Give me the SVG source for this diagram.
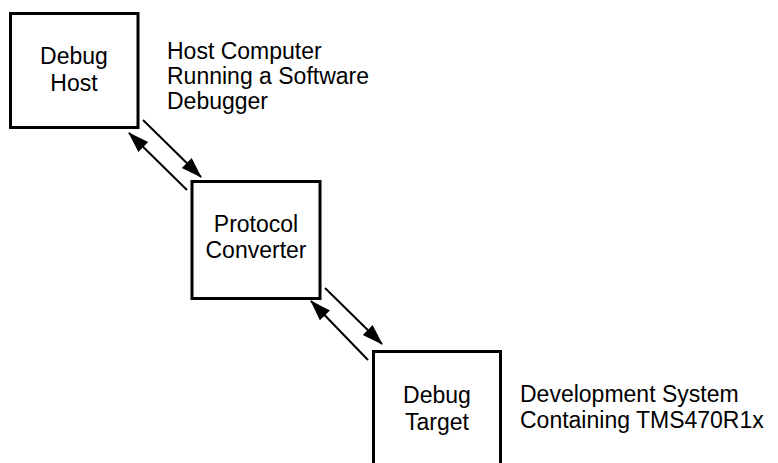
<svg xmlns="http://www.w3.org/2000/svg" width="778" height="463" viewBox="0 0 778 463">
<style>
.box{fill:#fff;stroke:#000;stroke-width:3}
.t{font-family:"Liberation Sans",Arial,sans-serif;font-size:23px;fill:#000}
.c{text-anchor:middle}
.ln{stroke:#000;stroke-width:2;fill:none;marker-end:url(#ah)}
</style>
<defs>
<marker id="ah" markerUnits="userSpaceOnUse" markerWidth="22" markerHeight="16" refX="20" refY="7" orient="auto">
<path d="M0,0 L21,7 L0,14 z" fill="#000"/>
</marker>
</defs>
<rect width="778" height="463" fill="#fff"/>
<g id="connectors">
<line class="ln" x1="143" y1="120" x2="201" y2="177"/>
<line class="ln" x1="187" y1="190" x2="129" y2="133"/>
<line class="ln" x1="325" y1="288" x2="382" y2="344"/>
<line class="ln" x1="368" y1="360" x2="311" y2="301"/>
</g>
<g id="debug-host">
<rect class="box" x="10.5" y="13.5" width="127.5" height="114"/>
<text class="t c" x="74" y="64">Debug</text>
<text class="t c" x="74" y="91">Host</text>
</g>
<g id="host-label">
<text class="t" x="167" y="59">Host Computer</text>
<text class="t" x="167" y="84">Running a Software</text>
<text class="t" x="167" y="109">Debugger</text>
</g>
<g id="protocol-converter">
<rect class="box" x="192" y="181.5" width="128" height="117"/>
<text class="t c" x="256" y="232">Protocol</text>
<text class="t c" x="256" y="258">Converter</text>
</g>
<g id="debug-target">
<rect class="box" x="373.5" y="351.5" width="127" height="130"/>
<text class="t c" x="437" y="403">Debug</text>
<text class="t c" x="437" y="430">Target</text>
</g>
<g id="target-label">
<text class="t" x="520" y="402">Development System</text>
<text class="t" x="520" y="428">Containing TMS470R1x</text>
</g>
</svg>
